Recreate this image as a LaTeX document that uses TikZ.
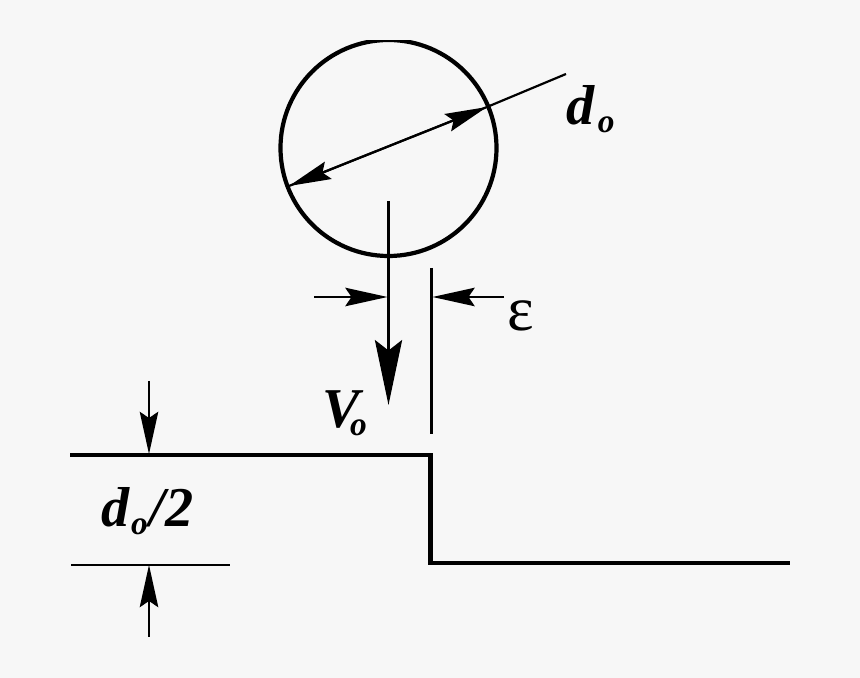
\documentclass[tikz,border=0pt]{standalone}
\usepackage{fontspec}
\setmainfont{Liberation Serif}
\usetikzlibrary{arrows.meta}
\definecolor{paper}{HTML}{F7F7F7}
\newcommand{\subo}{\raisebox{-4.2pt}{\fontsize{19}{19}\selectfont o}}
\tikzset{
  thin line/.style = {line width=1.25pt},
  thick line/.style = {line width=2.4pt},
  small head/.style = {-{Stealth[length=24pt,width=10.5pt,inset=3.5pt]}, thin line},
  big head/.style = {-{Stealth[length=37pt,width=15.5pt,inset=6pt]}, thin line},
  label/.style = {inner sep=0pt, font=\fontsize{32}{32}\selectfont\bfseries\itshape}
}
\begin{document}
\begin{tikzpicture}[x=0.02cm,y=-0.02cm]

  \fill[paper] (0,0) rectangle (860,678);

  % ball
  \draw[thick line] (388.5,148) circle (108);
  \fill[paper] (330,36) rectangle (450,39.8);

  \coordinate (dleft) at (289,186);
  \coordinate (dright) at (487,107);
  \coordinate (dend) at (566,74);
  \draw[small head] (dright) -- (dleft);
  \draw[small head] (dleft) -- (dright);
  \draw[thin line] (dright) -- (dend);

  % velocity and offset
  \coordinate (vtop) at (388.5,201);
  \coordinate (vtip) at (388.5,405);
  \coordinate (etop) at (431.5,268);
  \coordinate (ebot) at (431.5,434);
  \draw[big head] (vtop) -- (vtip);
  \draw[thin line] (etop) -- (ebot);

  \coordinate (eleft) at (314,297);
  \coordinate (eleftip) at (387.5,297);
  \coordinate (eright) at (504,297);
  \coordinate (erightip) at (432.5,297);
  \draw[small head] (eleft) -- (eleftip);
  \draw[small head] (eright) -- (erightip);

  % step
  \coordinate (s1) at (70,455);
  \coordinate (s2) at (430.5,455);
  \coordinate (s3) at (430.5,563);
  \coordinate (s4) at (790,563);
  \draw[thick line] (s1) -- (s2) -- (s3) -- (s4);

  % height
  \coordinate (l1) at (71,565);
  \coordinate (l2) at (230,565);
  \draw[thin line] (l1) -- (l2);
  \coordinate (htop) at (149,381);
  \coordinate (htoptip) at (149,454);
  \coordinate (hbot) at (149,637);
  \coordinate (hbottip) at (149,565);
  \draw[small head] (htop) -- (htoptip);
  \draw[small head] (hbot) -- (hbottip);

  \node[label, anchor=base west] (dlabel) at (566,125) {d\kern2pt\subo};
  \node[label, anchor=base west] (vlabel) at (322,428) {V\kern-5.5pt\subo};
  \node[label, anchor=base west] (hlabel) at (101,527) {d\kern1pt\subo\kern1pt/2};
  \node[inner sep=0pt, anchor=base west, font=\fontsize{36}{36}\selectfont\mdseries\upshape] (elabel) at (507,331) {ε};

\end{tikzpicture}
\end{document}
